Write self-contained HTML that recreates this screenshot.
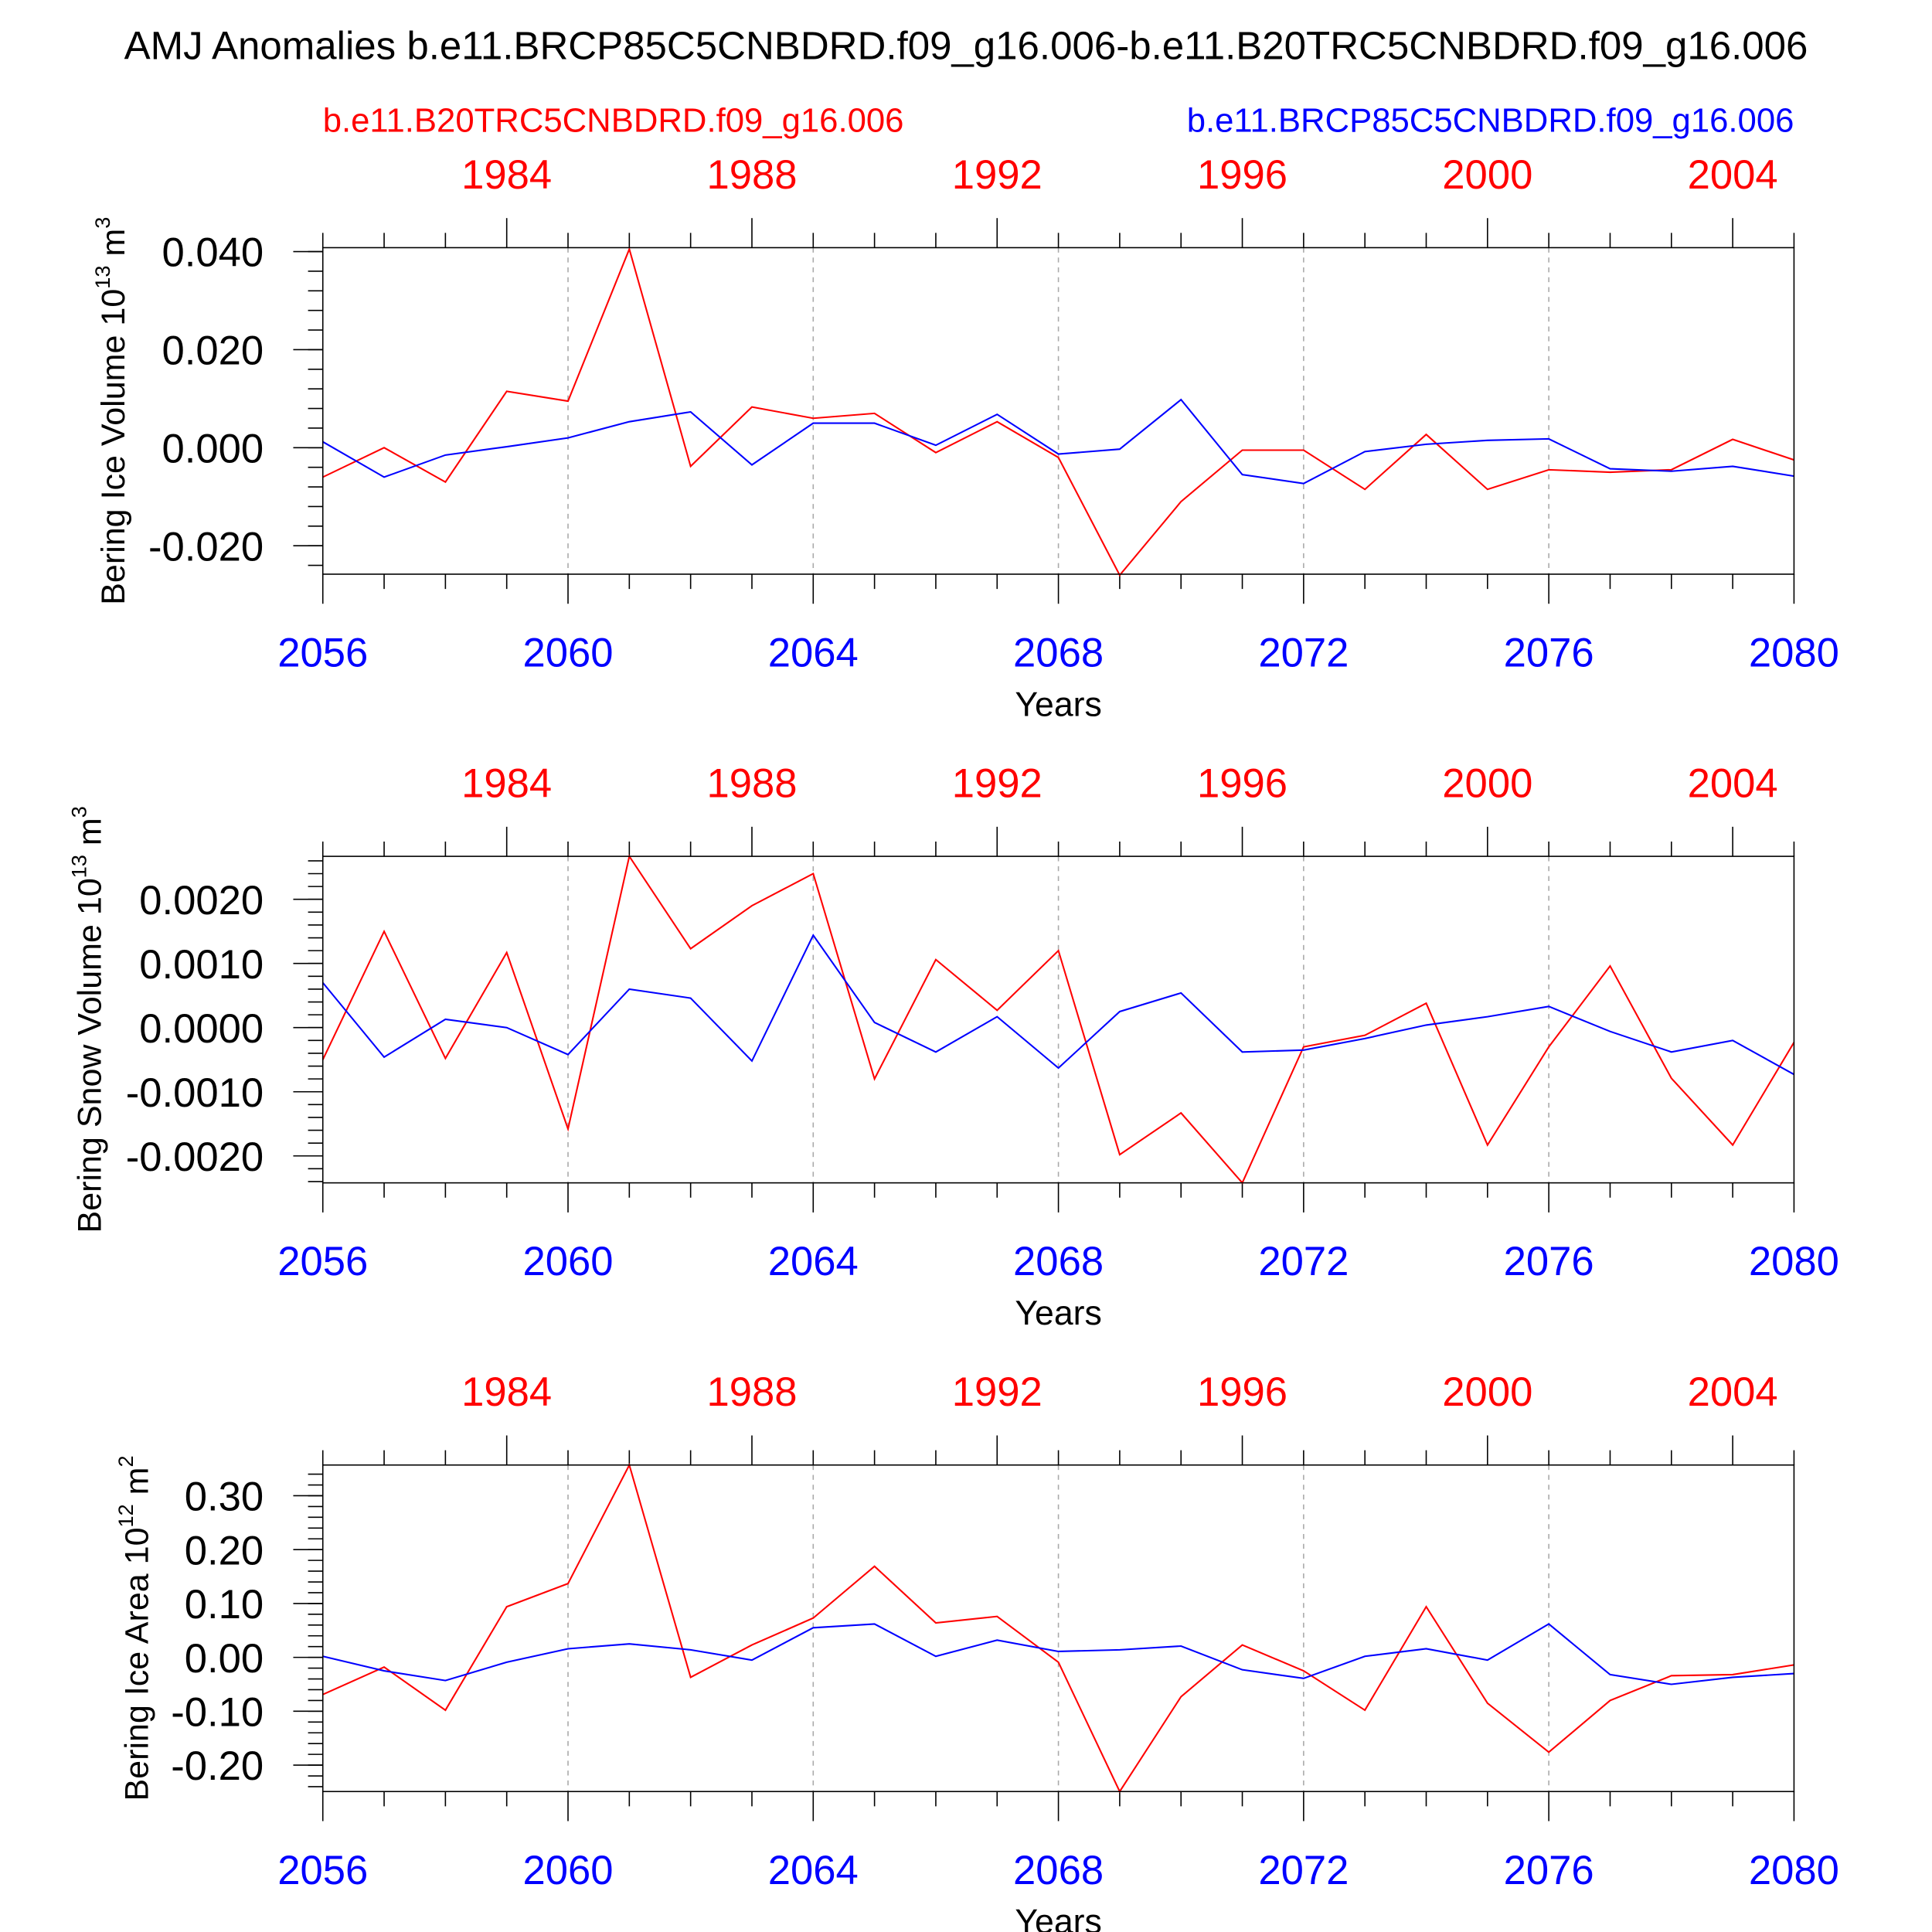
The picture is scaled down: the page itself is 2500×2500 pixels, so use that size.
<!DOCTYPE html>
<html><head><meta charset="utf-8"><style>html,body{margin:0;padding:0;background:#fff}svg{display:block}text{font-family:"Liberation Sans",sans-serif}</style></head>
<body>
<svg id="chart" width="2500" height="2500" viewBox="0 0 1568 1568" xmlns="http://www.w3.org/2000/svg">
<text x="784" y="48" font-size="32" text-anchor="middle">AMJ Anomalies b.e11.BRCP85C5CNBDRD.f09_g16.006-b.e11.B20TRC5CNBDRD.f09_g16.006</text>
<text x="262" y="107" font-size="27.4" fill="#f00">b.e11.B20TRC5CNBDRD.f09_g16.006</text>
<text x="1456" y="107" font-size="27.4" fill="#00f" text-anchor="end">b.e11.BRCP85C5CNBDRD.f09_g16.006</text>
</svg>
<script>
const years = [2056,2057,2058,2059,2060,2061,2062,2063,2064,2065,2066,2067,2068,2069,2070,2071,2072,2073,2074,2075,2076,2077,2078,2079,2080];
const iceVolRed = [-0.006,0.000,-0.007,0.0115,0.0095,0.0405,-0.0038,0.0083,0.006,0.007,-0.001,0.0053,-0.002,-0.026,-0.011,-0.0005,-0.0005,-0.0085,0.0027,-0.0085,-0.0045,-0.005,-0.0045,0.0017,-0.0025];
const iceVolBlue = [0.0012,-0.006,-0.0015,0.0002,0.002,0.0053,0.0073,-0.0035,0.005,0.005,0.0005,0.0068,-0.0013,-0.0003,0.0098,-0.0055,-0.0073,-0.0008,0.0007,0.0015,0.0018,-0.0043,-0.0048,-0.0038,-0.0058];
const snowRed = [-0.0005,0.0015,-0.00048,0.00117,-0.00158,0.00267,0.00123,0.0019,0.0024,-0.0008,0.00106,0.00027,0.0012,-0.00198,-0.00133,-0.00242,-0.0003,-0.00012,0.00038,-0.00183,-0.0003,0.00096,-0.00079,-0.00183,-0.00023];
const snowBlue = [0.0007,-0.00046,0.00013,0,-0.00042,0.0006,0.00046,-0.00052,0.00144,0.00008,-0.00038,0.00017,-0.00063,0.00025,0.00054,-0.00038,-0.00035,-0.00017,0.00004,0.00017,0.00033,-0.00006,-0.00038,-0.0002,-0.00073];
const areaRed = [-0.069,-0.018,-0.098,0.094,0.137,0.357,-0.037,0.023,0.073,0.169,0.064,0.076,-0.009,-0.249,-0.073,0.023,-0.025,-0.098,0.094,-0.085,-0.176,-0.08,-0.034,-0.032,-0.014];
const areaBlue = [0.002,-0.025,-0.043,-0.009,0.016,0.025,0.014,-0.005,0.055,0.062,0.002,0.032,0.011,0.014,0.021,-0.023,-0.039,0.002,0.016,-0.005,0.062,-0.032,-0.05,-0.037,-0.03];
const bottomTicks = [2056,2060,2064,2068,2072,2076,2080];
const topTicks = [1984,1988,1992,1996,2000,2004];
const iceVolTicks = [0.04,0.02,0,-0.02];
const snowTicks = [0.002,0.001,0,-0.001,-0.002];
const areaTicks = [0.3,0.2,0.1,0,-0.1,-0.2];

const svg = document.getElementById('chart');
const NS = 'http://www.w3.org/2000/svg';
function mk(tag, attrs, parent){const e=document.createElementNS(NS,tag);for(const k in attrs)e.setAttribute(k,attrs[k]);(parent||svg).appendChild(e);return e;}
const L=262,R=1456;
function xs(y){return L+(y-2056)*(R-L)/24;}

const panels=[
 {name:'ice-volume',top:201,bot:466,ymax:0.0408,ymin:-0.0258,red:iceVolRed,blue:iceVolBlue,ticks:iceVolTicks,minor:0.004,dec:3,title:'Bering Ice Volume 10',sup:'13',unit:' m',usup:'3',tx:101},
 {name:'snow-volume',top:695,bot:960,ymax:0.00267,ymin:-0.00242,red:snowRed,blue:snowBlue,ticks:snowTicks,minor:0.0002,dec:4,title:'Bering Snow Volume 10',sup:'13',unit:' m',usup:'3',tx:82},
 {name:'ice-area',top:1189,bot:1454,ymax:0.357,ymin:-0.249,red:areaRed,blue:areaBlue,ticks:areaTicks,minor:0.02,dec:2,title:'Bering Ice Area 10',sup:'12',unit:' m',usup:'2',tx:120}
];
panels.forEach(p=>{
 const g=mk('g',{});
 
 
 const ys=v=>p.bot-(v-p.ymin)*(p.bot-p.top)/(p.ymax-p.ymin);
 [2060,2064,2068,2072,2076].forEach(y=>{
  const ln=mk('line',{x1:xs(y),x2:xs(y),y1:p.top,y2:p.bot,stroke:'#aaa','stroke-width':1,'stroke-dasharray':'4,4'},g);
  
  
 });
 for(let y=2056;y<=2080;y++){
  const major=(y%4===0);
  mk('line',{x1:xs(y),x2:xs(y),y1:p.bot,y2:p.bot+(major?24:12),stroke:'#000','stroke-width':1},g);
  const topMajor=((y-75-1984)%4===0);
  mk('line',{x1:xs(y),x2:xs(y),y1:p.top,y2:p.top-(topMajor?24:12),stroke:'#000','stroke-width':1},g);
 }
 bottomTicks.forEach(y=>{
  const t=mk('text',{x:xs(y),y:p.bot+75,'font-size':33,fill:'#00f','text-anchor':'middle'},g);t.textContent=y;
  
  
 });
 topTicks.forEach(y=>{
  const t=mk('text',{x:xs(y+75),y:p.top-48,'font-size':33,fill:'#f00','text-anchor':'middle'},g);t.textContent=y;
  
  
 });
 const yt=mk('text',{x:859,y:p.bot+115,'font-size':28,'text-anchor':'middle'},g);yt.textContent='Years';
 
 
 const n0=Math.ceil(p.ymin/p.minor-1e-6),n1=Math.floor(p.ymax/p.minor+1e-6);
 for(let i=n0;i<=n1;i++){const v=i*p.minor;mk('line',{x1:L,x2:L-12,y1:ys(v),y2:ys(v),stroke:'#000','stroke-width':1},g);}
 p.ticks.forEach(v=>{
  mk('line',{x1:L,x2:L-24,y1:ys(v),y2:ys(v),stroke:'#000','stroke-width':1},g);
  const t=mk('text',{x:L-48,y:ys(v)+12,'font-size':33,'text-anchor':'end'},g);t.textContent=v.toFixed(p.dec);
  
  
 });
 const cy=(p.top+p.bot)/2;
 const tt=mk('text',{x:0,y:0,'font-size':27,'text-anchor':'middle',transform:`translate(${p.tx},${cy}) rotate(-90)`},g);
 
 
 tt.innerHTML=`${p.title}<tspan font-size="17" dy="-12">${p.sup}</tspan><tspan dy="12">${p.unit}</tspan><tspan font-size="17" dy="-12">${p.usup}</tspan>`;
 [['red',p.red,'#f00'],['blue',p.blue,'#00f']].forEach(([nm,arr,c])=>{
  const pts=arr.map((v,i)=>xs(years[i])+','+ys(v)).join(' ');
  const pl=mk('polyline',{points:pts,fill:'none',stroke:c,'stroke-width':1.3},g);
  
  
 });
 const fr=mk('rect',{x:L,y:p.top,width:R-L,height:p.bot-p.top,fill:'none',stroke:'#000','stroke-width':1},g);
 
 
});
</script>
</body></html>
